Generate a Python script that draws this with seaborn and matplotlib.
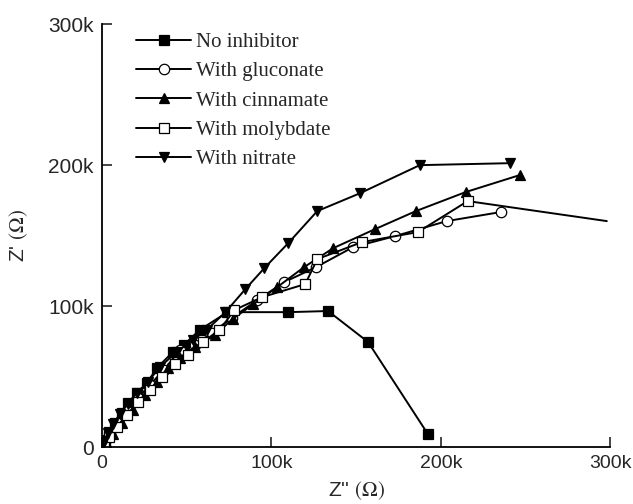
import matplotlib
matplotlib.use("Agg")
import matplotlib.pyplot as plt
import numpy as np
import pandas as pd
import seaborn as sns

# values in kOhm
noinh_x = [0.6, 1.8, 4.1, 7.6, 11.8, 15.3, 20.6, 26.5, 32.4, 41.8, 48.2, 57.6, 74.1, 110.0, 133.5, 157.1, 192.4]
noinh_y = [1.4, 5.0, 10.6, 17.0, 24.1, 31.2, 38.3, 45.4, 56.0, 67.4, 72.3, 83.0, 95.7, 95.7, 96.5, 74.5, 9.2]

gluc_x = [0.6, 1.8, 4.7, 9.4, 14.7, 21.2, 28.2, 36.5, 45.9, 54.7, 64.7, 76.5, 91.8, 107.6, 126.5, 148.2, 172.9, 203.5, 235.3]
gluc_y = [0.7, 3.5, 9.2, 17.0, 25.5, 34.8, 44.0, 54.6, 68.8, 72.3, 80.9, 91.5, 104.3, 117.0, 127.7, 141.8, 149.6, 160.3, 166.7]

cinn_x = [0.6, 2.4, 6.5, 11.8, 18.2, 25.3, 32.4, 38.8, 45.9, 54.7, 66.5, 77.1, 89.4, 103.5, 119.4, 136.5, 161.2, 185.3, 214.7, 246.5]
cinn_y = [0.7, 3.5, 9.2, 17.0, 26.2, 36.9, 46.1, 56.0, 63.1, 70.9, 79.4, 90.8, 101.4, 113.5, 127.7, 141.1, 154.6, 167.4, 180.9, 192.9]

moly_x = [0.0, 1.2, 4.1, 8.8, 14.7, 21.2, 28.2, 35.3, 42.9, 50.6, 59.4, 69.4, 78.2, 94.7, 120.0, 127.1, 153.5, 186.5, 215.9, 298.0]
moly_y = [0.0, 2.1, 7.1, 14.2, 22.7, 31.9, 40.4, 49.6, 58.9, 65.2, 74.5, 83.0, 97.2, 106.4, 115.6, 133.3, 145.4, 152.5, 174.5, 160.3]

nitr_x = [0.2, 1.2, 3.5, 6.5, 10.6, 15.3, 20.6, 27.1, 34.1, 44.1, 53.5, 61.8, 72.9, 84.7, 95.9, 110.0, 127.1, 152.4, 187.6, 240.6]
nitr_y = [0.7, 4.3, 9.9, 16.3, 23.4, 30.5, 38.3, 46.1, 56.7, 67.4, 75.9, 83.0, 95.7, 112.1, 127.0, 144.7, 167.4, 180.1, 200.0, 201.4]

labels = ['No inhibitor', 'With gluconate', 'With cinnamate', 'With molybdate', 'With nitrate']
ticks = [0, 100, 200, 300]
tick_labels = ['0', '100k', '200k', '300k']

sns.set_style("ticks")
plt.rcParams['font.family'] = ['Liberation Sans', 'DejaVu Sans']
plt.rcParams['mathtext.fontset'] = 'stix'

fig = plt.figure(figsize=(6.33, 5.04), dpi=100)
ax = fig.add_axes([0.161, 0.113, 0.803, 0.839])

series = [
    (noinh_x, noinh_y, 's', 'black'),
    (gluc_x, gluc_y, 'o', 'white'),
    (cinn_x, cinn_y, '^', 'black'),
    (moly_x, moly_y, 's', 'white'),
    (nitr_x, nitr_y, 'v', 'black'),
]

for (xs, ys, mk, fc), lab in zip(series, labels):
    df = pd.DataFrame({'x': xs, 'y': ys})
    kw = {}
    if lab == 'With molybdate':
        # last point is only the line running off to the edge
        kw['markevery'] = list(range(len(xs) - 1))
    sns.lineplot(x='x', y='y', data=df, ax=ax, sort=False, estimator=None,
                 color='black', linewidth=1.4, marker=mk, markersize=7.5,
                 markerfacecolor=fc, markeredgecolor='black', markeredgewidth=0.9,
                 label=lab, **kw)

ax.set_xlim(0, 300)
ax.set_ylim(0, 300)
ax.set_xticks(ticks)
ax.set_xticklabels(tick_labels)
ax.set_yticks(ticks)
ax.set_yticklabels(tick_labels)
ax.tick_params(direction='in', length=7, width=1.2, pad=6)
ax.tick_params(axis='y', labelsize=15)
ax.tick_params(axis='x', labelsize=14)
sns.despine(ax=ax)
for s in ['left', 'bottom']:
    ax.spines[s].set_linewidth(1.3)
    ax.spines[s].set_color('black')

ax.set_xlabel(r"Z'' $(\Omega)$", fontsize=15, labelpad=5)
ax.set_ylabel(r"Z' $(\Omega)$", fontsize=15, labelpad=13)

leg = ax.legend(loc='upper left', bbox_to_anchor=(0.03, 1.025), frameon=False,
                numpoints=1, handlelength=2.65, handletextpad=0.25,
                labelspacing=0.47, prop={'family': 'Liberation Serif', 'size': 15})

fig.savefig('out.png', dpi=100)
